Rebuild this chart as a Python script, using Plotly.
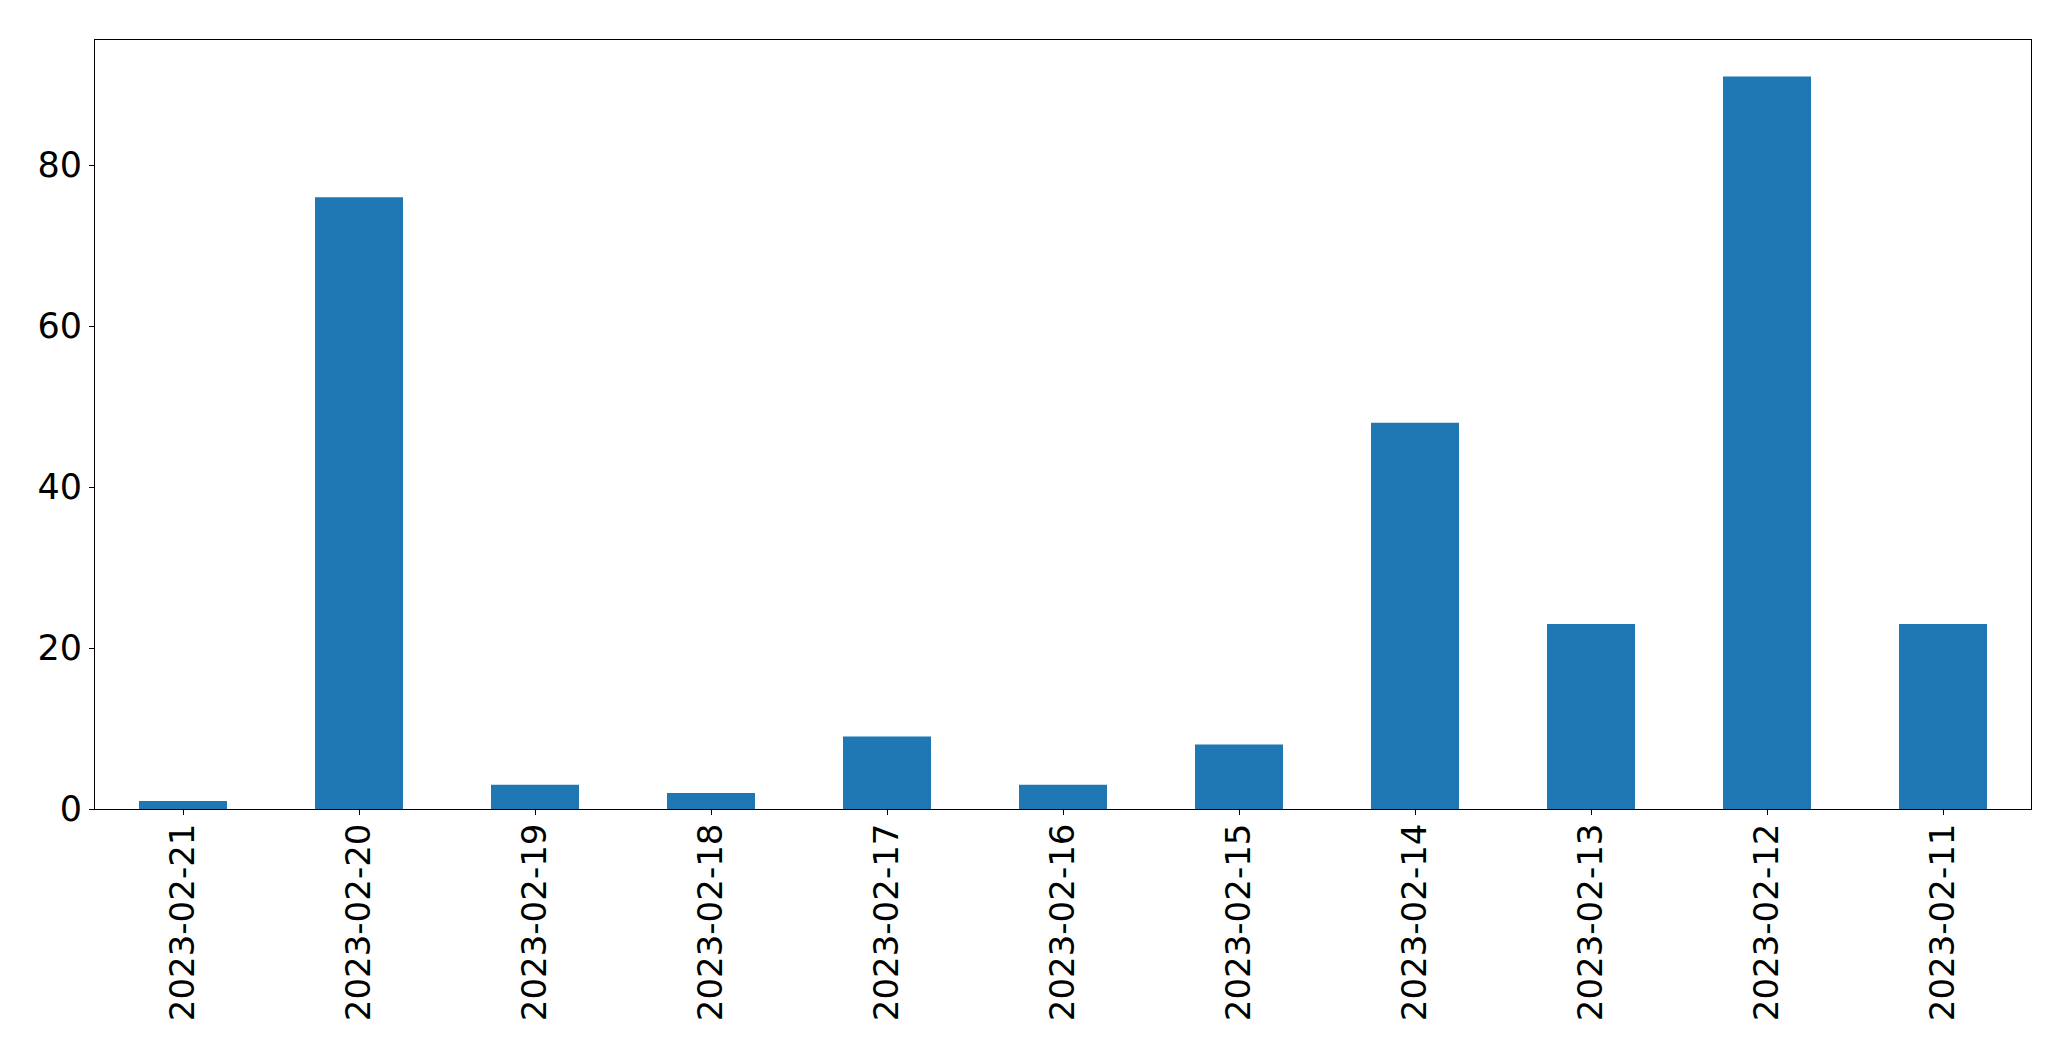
import plotly.graph_objects as go

dates = ["2023-02-21", "2023-02-20", "2023-02-19", "2023-02-18", "2023-02-17",
         "2023-02-16", "2023-02-15", "2023-02-14", "2023-02-13", "2023-02-12", "2023-02-11"]
counts = [1, 76, 3, 2, 9, 3, 8, 48, 23, 91, 23]
y_ticks = [0, 20, 40, 60, 80]

fig = go.Figure(go.Bar(x=dates, y=counts, marker=dict(color="#1f77b4", line=dict(width=0)), width=0.5))

fig.update_layout(
    width=2071, height=1061,
    margin=dict(l=86.5, r=48, t=32, b=260, pad=0),
    plot_bgcolor="white", paper_bgcolor="white",
    font=dict(family="DejaVu Sans", size=34, color="black"),
    showlegend=False,
)
fig.update_xaxes(
    type="category", range=[-0.5, len(dates) - 0.5],
    tickangle=-90, ticks="outside", ticklen=5, tickwidth=1, tickcolor="black",
    showline=True, linecolor="black", linewidth=1, mirror=True, showgrid=False,
    tickfont=dict(size=34), ticklabelstandoff=-5,
)
fig.update_yaxes(
    range=[0, max(counts) * 1.05], tickvals=y_ticks,
    ticks="outside", ticklen=5, tickwidth=1, tickcolor="black",
    showline=True, linecolor="black", linewidth=1, mirror=True, showgrid=False,
    zeroline=False, tickfont=dict(size=35),
)
fig.write_html("out.html")
